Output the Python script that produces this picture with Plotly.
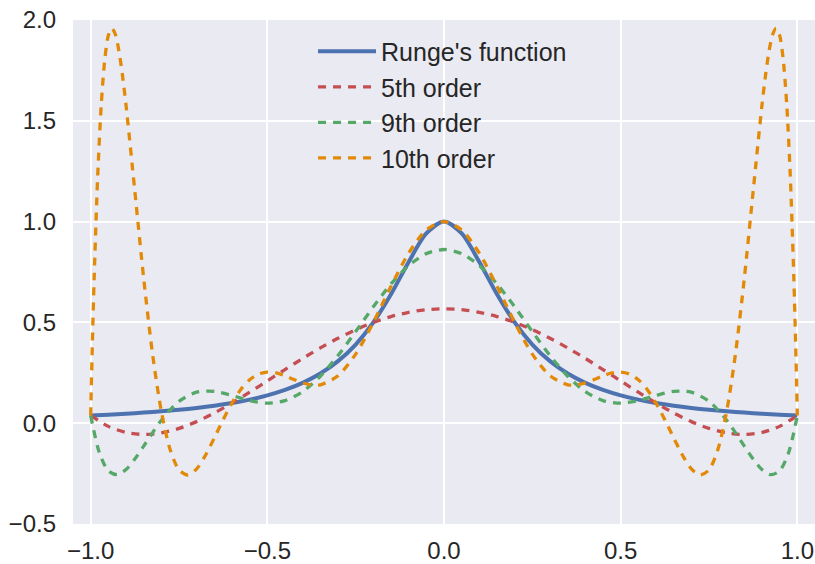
import plotly.graph_objects as go

# ---- data ----
x_runge = [-1.0, -0.95, -0.9, -0.85, -0.8, -0.75, -0.7, -0.65, -0.6, -0.55, -0.5, -0.45, -0.4, -0.35,
           -0.3, -0.25, -0.2, -0.15, -0.1, -0.05, 0.0, 0.05, 0.1, 0.15, 0.2, 0.25, 0.3, 0.35, 0.4,
           0.45, 0.5, 0.55, 0.6, 0.65, 0.7, 0.75, 0.8, 0.85, 0.9, 0.95, 1.0]
y_runge = [0.0385, 0.0424, 0.0471, 0.0525, 0.0588, 0.0664, 0.0755, 0.0865, 0.1, 0.1168, 0.1379,
           0.165, 0.2, 0.2462, 0.3077, 0.3902, 0.5, 0.64, 0.8, 0.9412, 1.0, 0.9412, 0.8, 0.64, 0.5,
           0.3902, 0.3077, 0.2462, 0.2, 0.165, 0.1379, 0.1168, 0.1, 0.0865, 0.0755, 0.0664, 0.0588,
           0.0525, 0.0471, 0.0424, 0.0385]

x_p5 = x_runge
y_p5 = [0.0385, -0.0157, -0.0460, -0.0558, -0.0481, -0.0260, 0.0078, 0.0506, 0.1, 0.1537, 0.2097,
        0.2661, 0.3212, 0.3733, 0.4213, 0.4638, 0.5, 0.5290, 0.5501, 0.5630, 0.5673, 0.5630, 0.5501,
        0.5290, 0.5, 0.4638, 0.4213, 0.3733, 0.3212, 0.2661, 0.2097, 0.1537, 0.1, 0.0506, 0.0078,
        -0.0260, -0.0481, -0.0558, -0.0460, -0.0157, 0.0385]

x_p9 = [-1.0, -0.975, -0.95, -0.925, -0.9, -0.875, -0.85, -0.8, -0.75, -0.7, -0.65, -0.6, -0.55, -0.5,
        -0.45, -0.4, -0.35, -0.3, -0.25, -0.2, -0.15, -0.1, -0.05, 0.0, 0.05, 0.1, 0.15, 0.2, 0.25,
        0.3, 0.35, 0.4, 0.45, 0.5, 0.55, 0.6, 0.65, 0.7, 0.75, 0.8, 0.85, 0.875, 0.9, 0.925, 0.95,
        0.975, 1.0]
y_p9 = [0.0385, -0.1480, -0.2361, -0.2555, -0.2300, -0.1781, -0.1138, 0.0147, 0.1084, 0.1540, 0.1582,
        0.1377, 0.1122, 0.0995, 0.1122, 0.1566, 0.2330, 0.3356, 0.4546, 0.5775, 0.6907, 0.7820,
        0.8411, 0.8615, 0.8411, 0.7820, 0.6907, 0.5775, 0.4546, 0.3356, 0.2330, 0.1566, 0.1122,
        0.0995, 0.1122, 0.1377, 0.1582, 0.1540, 0.1084, 0.0147, -0.1138, -0.1781, -0.2300, -0.2555,
        -0.2361, -0.1480, 0.0385]

x_p10 = [-1.0, -0.995, -0.99, -0.98, -0.97, -0.96, -0.95, -0.94, -0.93, -0.92, -0.91, -0.9, -0.875,
         -0.85, -0.825, -0.8, -0.775, -0.75, -0.725, -0.7, -0.675, -0.65, -0.625, -0.6, -0.575,
         -0.55, -0.525, -0.5, -0.475, -0.45, -0.425, -0.4, -0.375, -0.35, -0.3, -0.25, -0.2, -0.15,
         -0.1, -0.05, 0.0, 0.05, 0.1, 0.15, 0.2, 0.25, 0.3, 0.35, 0.375, 0.4, 0.425, 0.45, 0.475,
         0.5, 0.525, 0.55, 0.575, 0.6, 0.625, 0.65, 0.675, 0.7, 0.725, 0.75, 0.775, 0.8, 0.825,
         0.85, 0.875, 0.9, 0.91, 0.92, 0.93, 0.94, 0.95, 0.96, 0.97, 0.98, 0.99, 0.995, 1.0]
y_p10 = [0.0385, 0.4072, 0.7261, 1.2302, 1.5810, 1.8044, 1.9236, 1.9590, 1.9279, 1.8458, 1.7257,
         1.5787, 1.1517, 0.7195, 0.3451, 0.0588, -0.1312, -0.2315, -0.2569, -0.2262, -0.1588,
         -0.0727, 0.0175, 0.1, 0.1674, 0.2157, 0.2438, 0.2538, 0.2492, 0.2350, 0.2167, 0.2, 0.1899,
         0.1906, 0.2354, 0.3426, 0.5, 0.6790, 0.8434, 0.9586, 1.0, 0.9586, 0.8434, 0.6790, 0.5,
         0.3426, 0.2354, 0.1906, 0.1899, 0.2, 0.2167, 0.2350, 0.2492, 0.2538, 0.2438, 0.2157,
         0.1674, 0.1, 0.0175, -0.0727, -0.1588, -0.2262, -0.2569, -0.2315, -0.1312, 0.0588, 0.3451,
         0.7195, 1.1517, 1.5787, 1.7257, 1.8458, 1.9279, 1.9590, 1.9236, 1.8044, 1.5810, 1.2302,
         0.7261, 0.4072, 0.0385]

names = ["Runge's function", "5th order", "9th order", "10th order"]
colors = ["#4C72B0", "#C44E52", "#55A868", "#E28A08"]

x_ticks = [-1.0, -0.5, 0.0, 0.5, 1.0]
y_ticks = [-0.5, 0.0, 0.5, 1.0, 1.5, 2.0]

FONT = "Liberation Sans, Arial, Helvetica, sans-serif"

fig = go.Figure()
series = [(x_runge, y_runge), (x_p5, y_p5), (x_p9, y_p9), (x_p10, y_p10)]
for i, (xs, ys) in enumerate(series):
    fig.add_trace(go.Scatter(
        x=xs, y=ys, mode="lines", name=names[i],
        line=dict(color=colors[i], width=4 if i == 0 else 3.3,
                  dash="solid" if i == 0 else "8px,7px",
                  shape="spline", smoothing=0.8),
    ))

fig.update_layout(
    width=815, height=564,
    margin=dict(l=73, r=0, t=20, b=36),
    paper_bgcolor="white",
    plot_bgcolor="#EAEAF2",
    font=dict(family=FONT, size=24, color="#262626"),
    showlegend=True,
    legend=dict(x=0.3235, y=0.983, xanchor="left", yanchor="top",
                bgcolor="rgba(0,0,0,0)", font=dict(size=25, color="#262626"),
                itemwidth=58),
    xaxis=dict(range=[-1.05, 1.05], tickvals=x_ticks,
               ticktext=[f"{v:.1f}".replace("-", "\u2212") for v in x_ticks],
               showgrid=True, gridcolor="white", gridwidth=2, zeroline=False,
               showline=False, ticks="", ticklabelstandoff=10),
    yaxis=dict(range=[-0.5, 2.0], tickvals=y_ticks,
               ticktext=[f"{v:.1f}".replace("-", "\u2212") for v in y_ticks],
               showgrid=True, gridcolor="white", gridwidth=2, zeroline=False,
               showline=False, ticks="", ticklabelstandoff=16),
)

fig.write_html("out.html")
